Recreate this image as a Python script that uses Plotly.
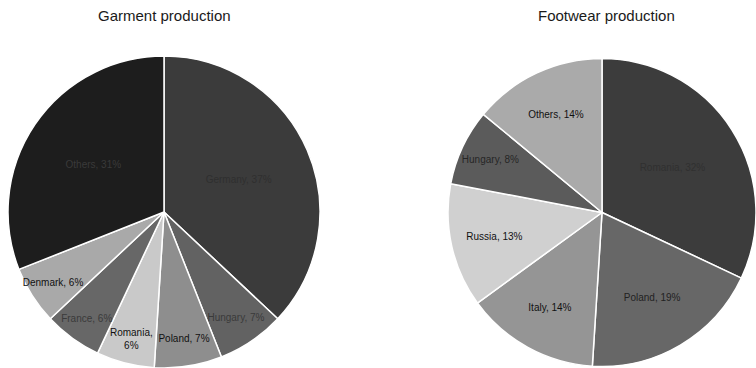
import plotly.graph_objects as go

garment_labels = ["Germany", "Hungary", "Poland", "Romania", "France", "Denmark", "Others"]
garment_values = [37, 7, 7, 6, 6, 6, 31]
garment_colors = ["#3b3b3b", "#626262", "#8e8e8e", "#c9c9c9", "#676767", "#a9a9a9", "#1d1d1d"]
garment_text_colors = ["#2f2f2f", "#3a3a3a", "#111111", "#111111", "#3a3a3a", "#111111", "#3a3a3a"]

footwear_labels = ["Romania", "Poland", "Italy", "Russia", "Hungary", "Others"]
footwear_values = [32, 19, 14, 13, 8, 14]
footwear_colors = ["#3c3c3c", "#676767", "#959595", "#d0d0d0", "#5b5b5b", "#aaaaaa"]
footwear_text_colors = ["#303030", "#222222", "#111111", "#111111", "#262626", "#111111"]


def make_text(labels, values):
    out = []
    for l, v in zip(labels, values):
        if l == "Romania" and v < 10:
            out.append(f"{l},<br>{v}%")
        else:
            out.append(f"{l}, {v}%")
    return out


label_font = "Liberation Sans, Arial, sans-serif"

fig = go.Figure()
fig.add_trace(go.Pie(
    labels=garment_labels, values=garment_values,
    text=make_text(garment_labels, garment_values), textinfo="text",
    sort=False, direction="clockwise", rotation=0,
    marker=dict(colors=garment_colors, line=dict(color="white", width=1.5)),
    textposition="inside", insidetextorientation="horizontal",
    textfont=dict(family=label_font, size=10, color=garment_text_colors),
    domain=dict(x=[8 / 756, 320 / 756], y=[0, 312 / 368]),
    showlegend=False, hoverinfo="label+percent",
))
fig.add_trace(go.Pie(
    labels=footwear_labels, values=footwear_values,
    text=make_text(footwear_labels, footwear_values), textinfo="text",
    sort=False, direction="clockwise", rotation=0,
    marker=dict(colors=footwear_colors, line=dict(color="white", width=1.5)),
    textposition="inside", insidetextorientation="horizontal",
    textfont=dict(family=label_font, size=10, color=footwear_text_colors),
    domain=dict(x=[448 / 756, 1.0], y=[0, 311 / 368]),
    showlegend=False, hoverinfo="label+percent",
))

title_font = dict(family="Liberation Sans, Arial, sans-serif", size=15, color="#1a1a1a")
fig.update_layout(
    width=756, height=368,
    margin=dict(l=0, r=0, t=0, b=0),
    paper_bgcolor="white", plot_bgcolor="white",
    uniformtext=dict(minsize=10, mode="show"),
    annotations=[
        dict(text="Garment production", x=164 / 756, y=1 - 15 / 368, xref="paper", yref="paper",
             showarrow=False, font=title_font, xanchor="center", yanchor="middle"),
        dict(text="Footwear production", x=606 / 756, y=1 - 15 / 368, xref="paper", yref="paper",
             showarrow=False, font=title_font, xanchor="center", yanchor="middle"),
    ],
)

fig.write_html("out.html")
